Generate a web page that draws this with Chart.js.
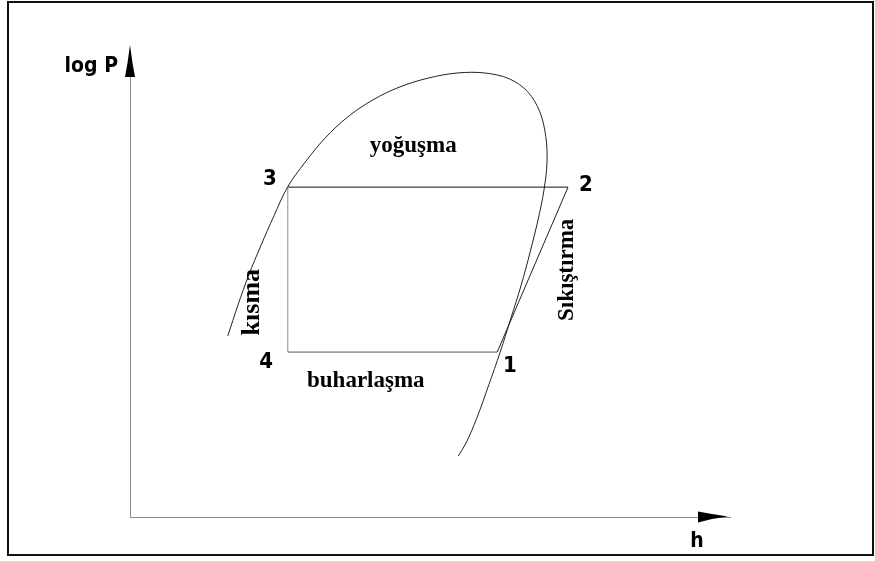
<!DOCTYPE html>
<html>
<head>
<meta charset="utf-8">
<script src="https://cdn.jsdelivr.net/npm/chart.js@4.4.1/dist/chart.umd.min.js"></script>
<style>
  html, body { margin: 0; padding: 0; background: #fff; }
  #wrap { position: relative; width: 875px; height: 561px; }
  #frame { position: absolute; left: 7px; top: 1px; width: 863px; height: 551px; border: 2px solid #111; pointer-events: none; }
</style>
</head>
<body>
<div id="wrap">
  <canvas id="chart" width="875" height="561"></canvas>
  <div id="frame"></div>
</div>
<script>
/* ---- log P - h diagram data (schematic units, 0..100) ---- */
const domeH    = [16.3, 18.0, 19.8, 21.8, 24.0, 26.3, 29.2, 32.5, 36.3, 40.5, 45.0, 49.7, 54.5, 59.2, 63.3, 66.3, 68.3, 69.3, 69.5, 69.0, 68.0, 66.7, 65.2, 63.5, 61.7, 59.8, 57.8, 56.0, 54.7];
const domeLogP = [39.2, 45.9, 52.4, 58.7, 65.2, 71.5, 76.8, 82.0, 86.6, 90.3, 93.1, 95.0, 96.1, 96.1, 94.8, 92.0, 87.7, 82.3, 76.8, 70.8, 64.3, 57.4, 50.2, 43.1, 35.7, 28.6, 21.4, 16.0, 13.2];

// cycle states in drawing order 3 -> 2 -> 1 -> 4 -> 3
const cycleStates = ['3', '2', '1', '4', '3'];
const cycleH      = [26.3, 73.0, 61.2, 26.3, 26.3];
const cycleLogP   = [71.4, 71.4, 35.7, 35.7, 71.4];

const axisTitles = ['log P', 'h'];
const processNames = ['yoğuşma', 'buharlaşma', 'kısma', 'Sıkıştırma'];

const zip = (xs, ys) => xs.map((x, i) => ({ x, y: ys[i] }));

/* segment colours for 3-2, 2-1, 1-4, 4-3 */
const segColors = ['#111', '#222', '#555', '#8a8a8a'];

const numFont   = 'bold 22px "DejaVu Sans Condensed", "Liberation Sans Narrow", Arial, sans-serif';
const serifFont = '"Liberation Serif", "Times New Roman", serif';

/* text placed on the diagram (data units) */
const notes = [
  { text: cycleStates[0], x: 23.3, y: 73.2, font: numFont },
  { text: cycleStates[1], x: 76.0, y: 71.9, font: numFont },
  { text: cycleStates[2], x: 63.3, y: 32.7, font: numFont },
  { text: cycleStates[3], x: 22.7, y: 33.5, font: numFont },
  { text: processNames[0], x: 47.2, y: 80.3, font: 'bold 23px ' + serifFont },
  { text: processNames[1], x: 39.3, y: 29.4, font: 'bold 23px ' + serifFont },
  { text: processNames[2], x: 20.4, y: 46.5, font: 'bold 26px ' + serifFont, rot: -Math.PI / 2 },
  { text: processNames[3], x: 72.8, y: 53.5, font: 'bold 23px ' + serifFont, rot: -Math.PI / 2 },
];

const diagramText = {
  id: 'diagramText',
  afterDatasetsDraw(chart) {
    const { ctx, chartArea: a, scales: { x, y } } = chart;
    ctx.save();
    ctx.fillStyle = '#000';

    /* arrow heads on the axes */
    ctx.beginPath();
    ctx.moveTo(a.left - 5, a.top + 22);
    ctx.lineTo(a.left - 2.5, a.top + 8);
    ctx.lineTo(a.left, a.top - 10);
    ctx.lineTo(a.left + 2.5, a.top + 8);
    ctx.lineTo(a.left + 5, a.top + 22);
    ctx.closePath();
    ctx.fill();

    ctx.beginPath();
    ctx.moveTo(a.right - 32, a.bottom - 5.5);
    ctx.lineTo(a.right - 18, a.bottom - 3);
    ctx.lineTo(a.right - 2, a.bottom - 0.5);
    ctx.lineTo(a.right - 18, a.bottom + 2);
    ctx.lineTo(a.right - 32, a.bottom + 5.5);
    ctx.closePath();
    ctx.fill();

    /* axis titles */
    ctx.font = 'bold 21px "DejaVu Sans Condensed", "Liberation Sans Narrow", Arial, sans-serif';
    ctx.textAlign = 'right';
    ctx.textBaseline = 'alphabetic';
    ctx.fillText(axisTitles[0], a.left - 12, a.top + 17);
    ctx.textAlign = 'center';
    ctx.fillText(axisTitles[1], a.right - 33, a.bottom + 30);

    /* state numbers and process names */
    ctx.textBaseline = 'middle';
    notes.forEach(n => {
      ctx.save();
      ctx.translate(x.getPixelForValue(n.x), y.getPixelForValue(n.y));
      if (n.rot) ctx.rotate(n.rot);
      ctx.font = n.font;
      ctx.fillText(n.text, 0, 0);
      ctx.restore();
    });
    ctx.restore();
  }
};

const hiddenAxis = (horizontal) => ({
  type: 'linear',
  min: 0,
  max: 100,
  grid: { display: false },
  ticks: { display: false },
  border: { display: true, color: '#8c8c8c', width: 1 },
  afterFit: s => { if (horizontal) s.height = 0; else s.width = 0; },
});

new Chart(document.getElementById('chart'), {
  type: 'scatter',
  data: {
    datasets: [
      {
        label: 'saturation dome',
        data: zip(domeH, domeLogP),
        showLine: true,
        borderColor: '#222',
        borderWidth: 1,
        pointRadius: 0,
        tension: 0.35,
        clip: false,
      },
      {
        label: 'cycle',
        data: zip(cycleH, cycleLogP),
        showLine: true,
        borderColor: '#111',
        borderWidth: 1,
        pointRadius: 0,
        tension: 0,
        segment: { borderColor: c => segColors[c.p0DataIndex] },
      },
    ],
  },
  options: {
    responsive: false,
    animation: false,
    events: [],
    layout: { padding: { left: 130, top: 55, right: 145, bottom: 44 } },
    plugins: { legend: { display: false }, tooltip: { enabled: false } },
    scales: { x: hiddenAxis(true), y: hiddenAxis(false) },
  },
  plugins: [diagramText],
});
</script>
</body>
</html>
